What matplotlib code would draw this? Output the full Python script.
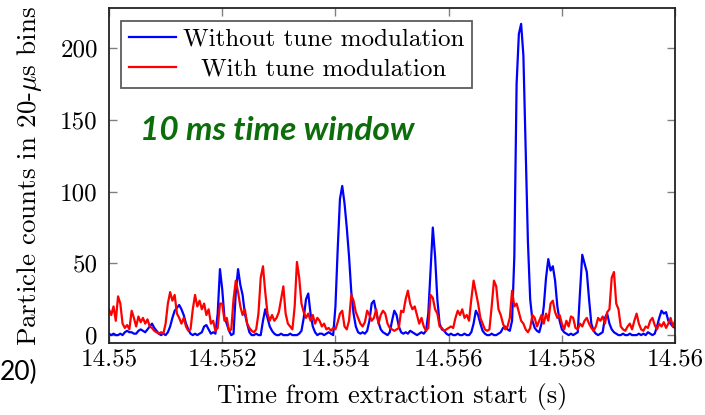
import numpy as np
import matplotlib
matplotlib.use("Agg")
import matplotlib.pyplot as plt

t_start = 14.55
t_step = 0.00004

blue = [1, 0, 1, 0, 0, 1, 0, 2, 3, 2,
        2, 1, 1, 3, 4, 3, 2, 4, 6, 8,
        5, 3, 1, 0, 1, 0, 2, 6, 12, 17,
        19, 21, 18, 14, 8, 4, 1, 0, 1, 0,
        1, 2, 6, 7, 4, 1, 2, 1, 15, 46,
        32, 12, 8, 3, 0, 1, 30, 46, 35, 28,
        15, 8, 2, 0, 0, 1, 0, 0, 10, 18,
        12, 6, 3, 1, 0, 0, 1, 0, 0, 0,
        1, 0, 0, 0, 1, 3, 12, 25, 29, 15,
        6, 2, 0, 1, 1, 0, 1, 2, 1, 0,
        20, 60, 95, 104, 92, 75, 55, 30, 15, 6,
        2, 1, 2, 1, 3, 10, 22, 24, 16, 9,
        4, 2, 1, 0, 2, 10, 17, 14, 6, 2,
        1, 2, 1, 3, 2, 1, 0, 1, 2, 1,
        3, 15, 45, 75, 55, 25, 8, 4, 3, 1,
        0, 1, 0, 0, 1, 0, 0, 1, 0, 0,
        2, 8, 17, 14, 8, 3, 1, 0, 0, 1,
        0, 0, 1, 2, 5, 6, 4, 3, 10, 55,
        175, 210, 217, 195, 130, 65, 25, 10, 5, 3,
        2, 8, 20, 40, 53, 45, 48, 38, 20, 10,
        4, 2, 1, 0, 1, 0, 1, 2, 30, 56,
        50, 44, 25, 8, 3, 1, 0, 1, 2, 12,
        15, 8, 4, 2, 1, 0, 0, 1, 0, 0,
        1, 0, 0, 0, 1, 0, 1, 0, 2, 1,
        0, 1, 6, 12, 17, 15, 16, 10, 8, 6,
        5]

red = [18, 14, 20, 10, 27, 22, 8, 5, 7, 4,
       17, 12, 6, 13, 9, 12, 8, 11, 6, 5,
       3, 2, 1, 2, 1, 8, 22, 30, 24, 28,
       15, 12, 8, 12, 6, 3, 4, 18, 28, 20,
       24, 18, 22, 14, 18, 8, 10, 3, 5, 22,
       22, 10, 12, 3, 4, 25, 38, 30, 20, 14,
       18, 8, 5, 3, 2, 4, 15, 40, 48, 30,
       15, 10, 14, 10, 12, 16, 25, 34, 15, 8,
       6, 4, 20, 51, 40, 22, 16, 12, 15, 10,
       14, 8, 12, 10, 6, 8, 4, 5, 3, 5,
       4, 9, 15, 17, 6, 4, 10, 28, 24, 16,
       12, 8, 6, 9, 17, 14, 10, 12, 18, 8,
       14, 17, 15, 8, 5, 4, 3, 4, 5, 17,
       16, 25, 31, 22, 18, 20, 14, 8, 12, 6,
       3, 5, 28, 26, 18, 15, 6, 5, 3, 4,
       5, 6, 5, 12, 17, 14, 18, 12, 14, 10,
       25, 38, 30, 22, 12, 8, 4, 3, 4, 20,
       38, 34, 18, 14, 8, 4, 6, 12, 31, 20,
       22, 16, 10, 8, 4, 2, 5, 14, 12, 6,
       10, 14, 8, 15, 10, 22, 24, 16, 12, 14,
       8, 4, 10, 6, 13, 12, 5, 4, 8, 6,
       10, 12, 8, 5, 3, 6, 12, 10, 13, 8,
       16, 18, 40, 44, 22, 18, 6, 4, 3, 6,
       8, 4, 10, 15, 8, 4, 3, 6, 5, 10,
       12, 7, 4, 8, 6, 9, 5, 8, 12, 6,
       10]

xticks = [14.55, 14.552, 14.554, 14.556, 14.558, 14.56]
xticklabels = ["14.55", "14.552", "14.554", "14.556", "14.558", "14.56"]
yticks = [0, 50, 100, 150, 200]

t = t_start + t_step * np.arange(len(blue))

plt.rcParams['font.family'] = 'cmr10'
plt.rcParams['mathtext.fontset'] = 'cm'
plt.rcParams['axes.unicode_minus'] = False

fig = plt.figure(figsize=(7.05, 4.15), dpi=100)
ax = fig.add_axes([0.1546, 0.1735, 0.803, 0.807])

ax.plot(t, blue, color='#0000ff', lw=1.6, label='Without tune modulation')
ax.plot(t, red, color='#ff0000', lw=1.6, label='With tune modulation')

ax.set_xlim(14.55, 14.56)
ax.set_ylim(-5.5, 228)
ax.set_xticks(xticks)
ax.set_xticklabels(xticklabels)
ax.set_yticks(yticks)
ax.tick_params(direction='in', top=True, right=True, length=6, width=1,
               color='#808080', labelsize=18)
ax.tick_params(axis='x', pad=4)
ax.tick_params(axis='y', pad=8)
for s in ax.spines.values():
    s.set_color('#222222')
    s.set_linewidth(1.3)

ax.set_xlabel('Time from extraction start (s)', fontsize=19, labelpad=9)
ax.set_ylabel(r'Particle counts in 20-$\mu$s bins', fontsize=19.5, labelpad=12)

leg = ax.legend(loc='upper left', fontsize=18, frameon=True, fancybox=False,
                edgecolor='#333333', borderaxespad=0.5, handlelength=1.9,
                handletextpad=0.25, labelspacing=0.3, borderpad=0.3)
leg.get_frame().set_linewidth(1.3)

# centre the shorter legend label under the longer one, like the original
fig.canvas.draw()
renderer = fig.canvas.get_renderer()
texts = leg.get_texts()
widths = [txt.get_window_extent(renderer).width for txt in texts]
for txt, w in zip(texts, widths):
    txt.set_position(((max(widths) - w) / 2, 0))

ax.text(0.055, 0.635, '10 ms time window', transform=ax.transAxes,
        color='#0b6e0b', fontsize=24, fontweight='bold', fontstyle='italic',
        family='Lato', va='center')

fig.text(0.0, 0.085, '20)', fontsize=19, family='Lato', color='black')

fig.savefig('out.png', dpi=100)
